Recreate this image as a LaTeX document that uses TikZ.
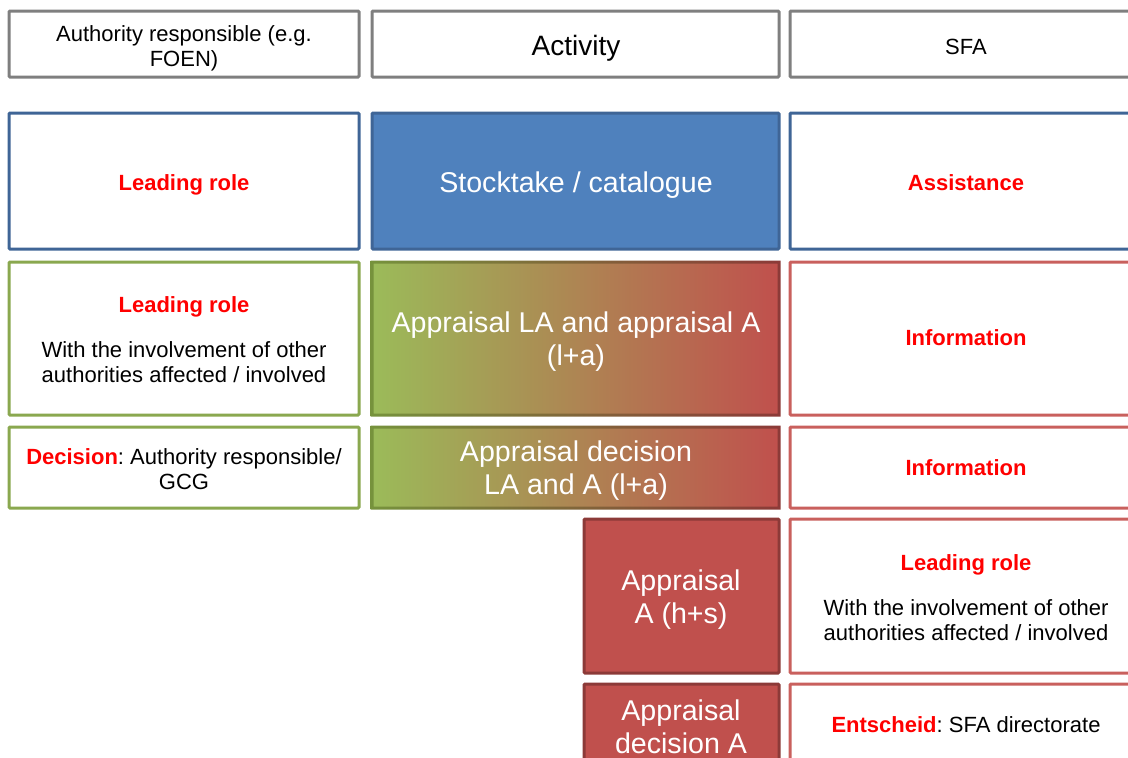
\documentclass[tikz,border=0pt]{standalone}
\usepackage{fontspec}
\setmainfont{Liberation Sans}
\usepackage{tikz}
\frenchspacing
\definecolor{headgray}{HTML}{7F7F7F}
\definecolor{blueline}{HTML}{3F6596}
\definecolor{bluefill}{HTML}{4F81BD}
\definecolor{greenline}{HTML}{8AA84F}
\definecolor{greenfill}{HTML}{9BBB59}
\definecolor{greendark}{HTML}{76923C}
\definecolor{redline}{HTML}{C9605D}
\definecolor{redfill}{HTML}{C0504D}
\definecolor{reddark}{HTML}{8C3A38}
\definecolor{signal}{HTML}{FF0000}
\newcommand{\hl}[1]{\textcolor{signal}{\bfseries #1}}
\tikzset{
  txt/.style={font=\fontsize{22}{25}\selectfont, align=center, text=black, yshift=-3.5pt},
  bigtxt/.style={font=\fontsize{28.6}{33}\selectfont, align=center, text=white, yshift=-4pt},
  frame/.style={line width=3pt, rounded corners=1pt}
}
\begin{document}
\begin{tikzpicture}[x=1pt,y=-1pt]
      \useasboundingbox (0,0) rectangle (1128,758);
      \clip (0,0) rectangle (1128,758);
      % header row
      \draw[frame, headgray, fill=white] (9,11) rectangle (359,77);
      \draw[frame, headgray, fill=white] (372,11) rectangle (779,77);
      \draw[frame, headgray, fill=white] (790,11) rectangle (1142,77);
      \node[txt] (h1) at (184,45) {Authority responsible (e.g.\\FOEN)};
      \node[txt, font=\fontsize{28}{32}\selectfont] (h2) at (576,45) {Activity};
      \node[txt] (h3) at (966,43) {SFA};
      % stocktake
      \draw[frame, blueline, fill=white] (9,113) rectangle (359,249);
      \draw[frame, blueline, fill=bluefill] (372,113) rectangle (779,249);
      \draw[frame, blueline, fill=white] (790,113) rectangle (1142,249);
      \node[txt] (s1) at (184,181) {\hl{Leading role}};
      \node[bigtxt] (s2) at (576,181) {Stocktake / catalogue};
      \node[txt] (s3) at (966,179) {\hl{Assistance}};
      % appraisal l+a
      \draw[frame, greenline, fill=white] (9,262) rectangle (359,415);
      \shade[left color=greenfill, right color=redfill] (372,262) rectangle (779,415);
      \shade[left color=greendark, right color=reddark, even odd rule]
        (370.5,260.5) rectangle (780.5,416.5) (373.5,263.5) rectangle (777.5,413.5);
      \draw[frame, redline, fill=white] (790,262) rectangle (1142,415);
      \node[txt] (a1) at (184,336) {\hl{Leading role}\\[20pt]With the involvement of other\\authorities affected / involved};
      \node[bigtxt] (a2) at (576,338) {Appraisal LA and appraisal A\\(l+a)};
      \node[txt] (a3) at (966,334) {\hl{Information}};
      % appraisal decision l+a
      \draw[frame, greenline, fill=white] (9,427) rectangle (359,508);
      \shade[left color=greenfill, right color=redfill] (372,427) rectangle (779,508);
      \shade[left color=greendark, right color=reddark, even odd rule]
        (370.5,425.5) rectangle (780.5,509.5) (373.5,428.5) rectangle (777.5,506.5);
      \draw[frame, redline, fill=white] (790,427) rectangle (1142,508);
      \node[txt] (d1) at (184,466) {\hl{Decision}: Authority responsible/\\GCG};
      \node[bigtxt] (d2) at (576,467) {Appraisal decision\\LA and A (l+a)};
      \node[txt] (d3) at (966,464) {\hl{Information}};
      % appraisal h+s
      \draw[frame, reddark, fill=redfill] (584,519) rectangle (779,673);
      \draw[frame, redline, fill=white] (790,519) rectangle (1142,673);
      \node[bigtxt] (e2) at (681,596) {Appraisal\\A (h+s)};
      \node[txt] (e3) at (966,594) {\hl{Leading role}\\[20pt]With the involvement of other\\authorities affected / involved};
      % appraisal decision h+s
      \draw[frame, reddark, fill=redfill] (584,684) rectangle (779,800);
      \draw[frame, redline, fill=white] (790,684) rectangle (1142,800);
      \node[bigtxt] (f2) at (681,723) {Appraisal\\decision A};
      \node[txt] (f3) at (966,721) {\hl{Entscheid}: SFA directorate};
    \end{tikzpicture}
\end{document}
